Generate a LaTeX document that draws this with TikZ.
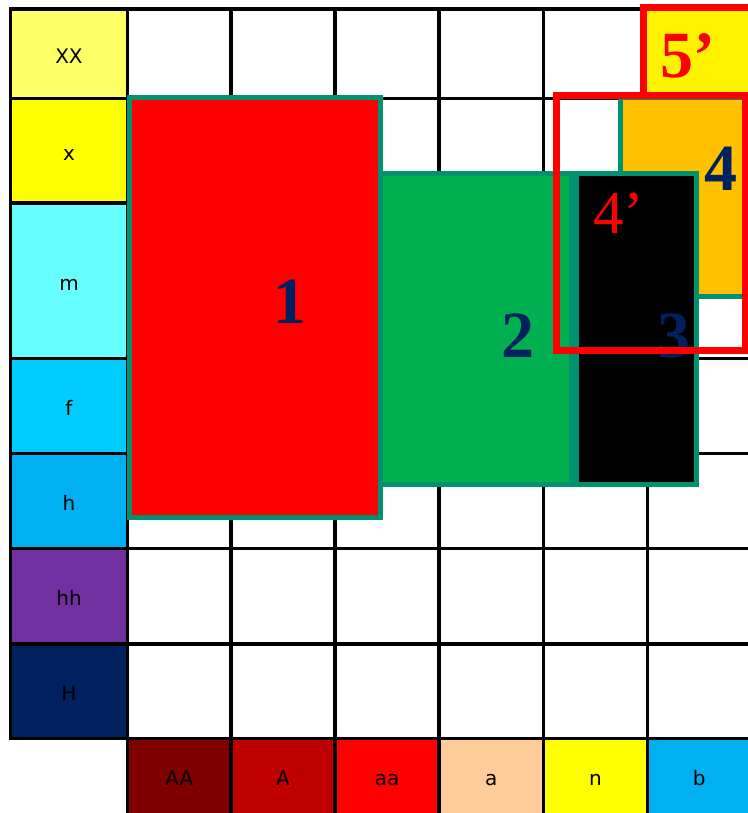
\documentclass[tikz,border=0pt]{standalone}
\usepackage{fontspec}
\newfontfamily\lblfont{DejaVu Sans}
\newfontfamily\digfont{Liberation Serif}
\definecolor{tealc}{RGB}{0,146,110}
\definecolor{navyc}{HTML}{002060}
\definecolor{cXX}{HTML}{FFFF66}
\definecolor{cx}{HTML}{FFFF00}
\definecolor{cm}{HTML}{66FFFF}
\definecolor{cf}{HTML}{00CCFF}
\definecolor{ch}{HTML}{00B0F0}
\definecolor{chh}{HTML}{7030A0}
\definecolor{cH}{HTML}{002060}
\definecolor{cAA}{HTML}{800000}
\definecolor{cA}{HTML}{C00000}
\definecolor{caa}{HTML}{FF0000}
\definecolor{ca}{HTML}{FFCC99}
\definecolor{cn}{HTML}{FFFF00}
\definecolor{cb}{HTML}{00B0F0}
\definecolor{cgreen}{HTML}{00B050}
\definecolor{corange}{HTML}{FFC000}
\begin{document}
\begin{tikzpicture}[x=1pt,y=-1pt,
  cellbox/.style={inner sep=0pt, outer sep=0pt, text height=19pt, text depth=0pt,
    font=\lblfont\fontsize{20}{20}\selectfont, text=black},
  gridline/.style={line width=3.3pt, draw=black, line cap=rect},
  blockbox/.style={line width=5pt, draw=tealc},
  bignum/.style={font=\digfont\bfseries\fontsize{66}{66}\selectfont, text=navyc, anchor=base, inner sep=0pt},
  primenum/.style={font=\digfont\fontsize{61}{61}\selectfont, text=red, anchor=base, inner sep=0pt},
  primebold/.style={font=\digfont\bfseries\fontsize{66}{66}\selectfont, text=red, anchor=base, inner sep=0pt},
  redframe/.style={draw=red, line width=7pt}
]
\useasboundingbox (0,0) rectangle (747,813);
\fill[white] (0,0) rectangle (747,813);

% left label column
\node[cellbox, fill=cXX, minimum width=117pt, minimum height=89.5pt] (lXX) at (69,53.75) {XX};
\node[cellbox, fill=cx, minimum width=117pt, minimum height=104.5pt] (lx) at (69,150.75) {x};
\node[cellbox, fill=cm, minimum width=117pt, minimum height=155.5pt] (lm) at (69,280.75) {m};
\node[cellbox, fill=cf, minimum width=117pt, minimum height=95pt] (lf) at (69,406) {f};
\node[cellbox, fill=ch, minimum width=117pt, minimum height=95pt] (lh) at (69,501) {h};
\node[cellbox, fill=chh, minimum width=117pt, minimum height=95.5pt] (lhh) at (69,596.25) {hh};
\node[cellbox, fill=cH, minimum width=117pt, minimum height=94.5pt] (lH) at (69,691.25) {H};

% bottom label row
\node[cellbox, fill=cAA, minimum width=103.5pt, minimum height=74.5pt] (bAA) at (179.25,775.75) {AA};
\node[cellbox, fill=cA, minimum width=104pt, minimum height=74.5pt] (bA) at (283,775.75) {A};
\node[cellbox, fill=caa, minimum width=104pt, minimum height=74.5pt] (baa) at (387,775.75) {aa};
\node[cellbox, fill=ca, minimum width=104.5pt, minimum height=74.5pt] (ba) at (491.25,775.75) {a};
\node[cellbox, fill=cn, minimum width=104pt, minimum height=74.5pt] (bn) at (595.5,775.75) {n};
\node[cellbox, fill=cb, minimum width=103.5pt, minimum height=74.5pt] (bb) at (699.25,775.75) {b};

% grid lines
\draw[gridline] (10.5,9) -- (10.5,738.5);
\foreach \gx in {127.5,231,335,439,543.5,647.5}
  \draw[gridline] (\gx,9) -- (\gx,815);
\foreach \gy in {9,98.5,203,358.5,453.5,548.5,644,738.5}
  \draw[gridline] (10.5,\gy) -- (752,\gy);

% blocks
\draw[blockbox, fill=red] (129,98) rectangle (380.5,517.5);
\draw[blockbox, fill=cgreen] (380.5,174) rectangle (571,484.5);
\draw[blockbox, fill=corange] (620.5,98) rectangle (745,296.5);
\draw[blockbox, fill=black] (576,174) rectangle (696.5,484.5);

\node[bignum] (n1) at (290,323) {1};
\node[bignum] (n2) at (518,357) {2};
\node[bignum] (n3) at (674,357) {3};
\node[bignum] (n4) at (720.5,190) {4};

% red frames
\draw[redframe, fill=yellow] (643.5,7.5) rectangle (756,96);
\draw[redframe] (556,96) rectangle (745,350.5);

\node[primenum] (p4) at (618.5,233) {4’};
\node[primebold] (p5) at (687.5,78) {5’};
\end{tikzpicture}
\end{document}
